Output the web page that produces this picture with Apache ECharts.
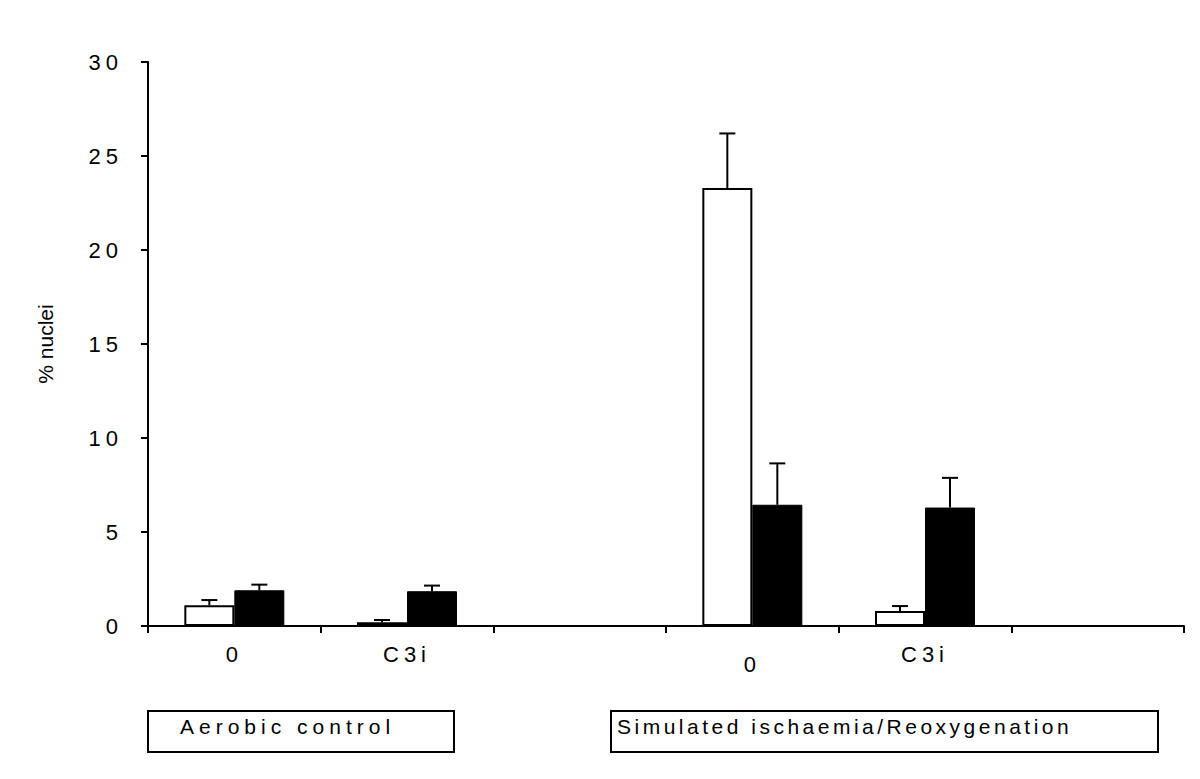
<!DOCTYPE html>
<html>
<head>
<meta charset="utf-8">
<script src="https://cdn.jsdelivr.net/npm/echarts@6/dist/echarts.min.js"></script>
<style>
  html, body { margin: 0; padding: 0; background: #fff; }
  #chart { width: 1200px; height: 779px; }
  #chart text[style*="Liberation"] { letter-spacing: 5px; }
  #chart text[style*="Helvetica"] { letter-spacing: 3.5px; }
</style>
</head>
<body>
<div id="chart"></div>
<script>
// ---- data ----
const categories = ['0', 'C3i', '', '0', 'C3i', ''];
const whiteMean = [1.1, 0.2, null, 23.3, 0.8, null];
const whiteErr  = [0.28, 0.12, null, 2.9, 0.26, null];
const blackMean = [1.9, 1.85, null, 6.45, 6.3, null];
const blackErr  = [0.3, 0.3, null, 2.2, 1.58, null];
const yTicks = [0, 5, 10, 15, 20, 25, 30];
const groupLabels = ['Aerobic control', 'Simulated ischaemia/Reoxygenation'];
const yName = '% nuclei';

// ---- chart ----
const BAR_W = 50;
const spaced = 'Liberation Sans';
const spaced2 = 'Liberation Sans, Helvetica';
const plain = 'Arial';

function errData(mean, err) {
  const out = [];
  mean.forEach((m, i) => { if (m != null) out.push([i, m, err[i]]); });
  return out;
}
function errRender(offset) {
  return function (params, api) {
    const x = api.value(0), m = api.value(1), e = api.value(2);
    const base = api.coord([x, m]);
    const top = api.coord([x, m + e]);
    const cx = base[0] + offset;
    const st = { stroke: '#000', lineWidth: 2 };
    return {
      type: 'group',
      children: [
        { type: 'line', shape: { x1: cx, y1: base[1], x2: cx, y2: top[1] }, style: st },
        { type: 'line', shape: { x1: cx - 8, y1: top[1], x2: cx + 8, y2: top[1] }, style: st }
      ]
    };
  };
}

const chart = echarts.init(document.getElementById('chart'), null, { renderer: 'svg' });
chart.setOption({
  backgroundColor: '#fff',
  animation: false,
  grid: { left: 148, right: 16, top: 62, bottom: 153, containLabel: false },
  xAxis: {
    type: 'category',
    data: categories,
    boundaryGap: true,
    axisLine: { lineStyle: { color: '#000', width: 2 } },
    axisTick: { show: true, inside: false, length: 7, interval: 0, alignWithLabel: false, lineStyle: { color: '#000', width: 2 } },
    axisLabel: {
      interval: 0,
      margin: 17,
      color: '#000',
      fontSize: 22,
      fontFamily: spaced,
      formatter: (v, i) => (i === 3 ? '{lo|' + v + '}' : v),
      rich: { lo: { fontSize: 22, fontFamily: spaced, color: '#000', padding: [10, 0, 0, 0] } }
    },
    splitLine: { show: false }
  },
  yAxis: {
    type: 'value',
    min: yTicks[0],
    max: yTicks[yTicks.length - 1],
    interval: 5,
    name: yName,
    nameLocation: 'middle',
    nameGap: 92,
    nameRotate: 90,
    nameTextStyle: { color: '#000', fontSize: 21, fontFamily: plain },
    axisLine: { show: true, lineStyle: { color: '#000', width: 2 } },
    axisTick: { show: true, inside: false, length: 7, lineStyle: { color: '#000', width: 2 } },
    axisLabel: { color: '#000', fontSize: 22, fontFamily: spaced, margin: 25 },
    splitLine: { show: false }
  },
  series: [
    {
      type: 'bar',
      data: whiteMean.map(v => (v == null ? '-' : v)),
      barWidth: BAR_W,
      barGap: '0%',
      itemStyle: { color: '#fff', borderColor: '#000', borderWidth: 2 },
      z: 2
    },
    {
      type: 'bar',
      data: blackMean.map(v => (v == null ? '-' : v)),
      barWidth: BAR_W,
      barGap: '0%',
      itemStyle: { color: '#000', borderColor: '#000', borderWidth: 1 },
      z: 2
    },
    {
      type: 'custom',
      data: errData(whiteMean, whiteErr),
      encode: { x: 0, y: 1 },
      renderItem: errRender(-BAR_W / 2),
      z: 3
    },
    {
      type: 'custom',
      data: errData(blackMean, blackErr),
      encode: { x: 0, y: 1 },
      renderItem: errRender(BAR_W / 2),
      z: 3
    }
  ],
  graphic: [
    { type: 'rect', shape: { x: 148, y: 711, width: 306, height: 41 }, style: { fill: '#fff', stroke: '#000', lineWidth: 2 } },
    { type: 'text', x: 180, y: 726, style: { text: groupLabels[0], fill: '#000', fontSize: 21, fontFamily: spaced, verticalAlign: 'middle', align: 'left' } },
    { type: 'rect', shape: { x: 611, y: 711, width: 547, height: 41 }, style: { fill: '#fff', stroke: '#000', lineWidth: 2 } },
    { type: 'text', x: 617, y: 726, style: { text: groupLabels[1], fill: '#000', fontSize: 21, fontFamily: spaced2, verticalAlign: 'middle', align: 'left' } }
  ]
});
</script>
</body>
</html>
